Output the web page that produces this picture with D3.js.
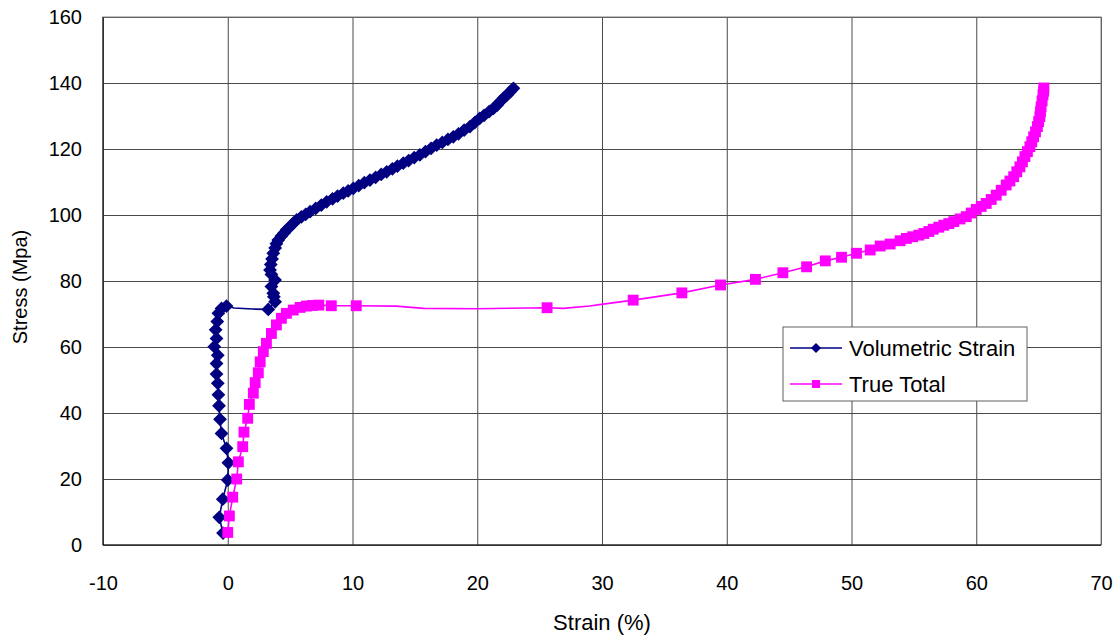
<!DOCTYPE html>
<html>
<head>
<meta charset="utf-8">
<script src="https://cdn.jsdelivr.net/npm/d3@7"></script>
<style>
  body { margin: 0; background: #fff; }
  svg text { font-family: "Liberation Sans", Arial, sans-serif; fill: #000; }
</style>
</head>
<body>
<div id="chart"></div>
<script>
const xTicks = [-10, 0, 10, 20, 30, 40, 50, 60, 70];
const yTicks = [0, 20, 40, 60, 80, 100, 120, 140, 160];
const seriesNames = ['Volumetric Strain', 'True Total'];

// [strain %, stress MPa, 0 = point on the line without a marker]
const volumetric = [
  [-0.38, 3.6], [-0.68, 8.4], [-0.4, 13.9], [0.0, 19.7], [0.05, 24.9], [-0.1, 29.3],
  [-0.5, 33.8], [-0.62, 38.1], [-0.7, 42.2], [-0.75, 45.5], [-0.8, 49.0], [-0.9, 51.8],
  [-0.9, 55.0], [-0.8, 57.5], [-1.08, 60.1], [-0.9, 62.6], [-0.97, 65.2], [-0.84, 67.7],
  [-0.75, 70.2], [-0.5, 71.7], [-0.1, 72.4],
  [0.5, 71.8, 0], [2.0, 71.5, 0],
  [3.25, 71.4], [3.8, 73.7], [3.7, 75.2], [3.65, 76.3], [3.5, 78.3], [3.79, 80.3],
  [3.5, 82.0], [3.39, 83.3], [3.45, 85.0], [3.55, 86.7], [3.65, 88.4], [3.8, 90.0],
  [3.9, 91.3], [4.05, 92.4], [4.3, 93.6], [4.5, 94.5], [4.72, 95.5], [5.0, 96.5],
  [5.25, 97.5], [5.53, 98.5], [5.9, 99.4], [6.25, 100.2], [6.6, 101.0], [7.05, 102.0],
  [7.5, 103.0], [7.93, 104.0], [8.4, 104.9], [8.8, 105.7], [9.26, 106.6], [9.65, 107.3],
  [10.07, 108.1], [10.5, 108.9], [10.95, 109.8], [11.4, 110.6], [11.85, 111.4], [12.3, 112.3],
  [12.74, 113.1], [13.2, 114.0], [13.6, 114.8], [14.07, 115.7], [14.5, 116.5], [14.95, 117.4],
  [15.4, 118.2], [15.85, 119.2], [16.3, 120.2], [16.75, 121.2], [17.2, 122.0], [17.65, 122.9],
  [18.08, 123.7], [18.5, 124.6], [18.95, 125.7], [19.42, 126.8], [19.8, 128.0], [20.2, 129.3],
  [20.55, 130.2], [20.95, 131.3], [21.3, 132.3], [21.6, 133.3], [21.85, 134.4], [22.1, 135.4],
  [22.4, 136.4], [22.65, 137.4], [22.9, 138.4]
];

const trueTotal = [
  [0.0, 3.8], [0.13, 8.8], [0.4, 14.5], [0.72, 20.0], [0.85, 25.2], [1.2, 29.8],
  [1.3, 34.2], [1.6, 38.4], [1.73, 42.6], [2.05, 46.0], [2.2, 49.2], [2.45, 52.2],
  [2.6, 55.5], [2.85, 58.6], [3.1, 61.1], [3.5, 64.1], [3.9, 66.7], [4.3, 68.7],
  [4.7, 70.2], [5.25, 71.2], [5.8, 72.0], [6.3, 72.4], [6.8, 72.6], [7.3, 72.7],
  [8.3, 72.5], [10.3, 72.5],
  [13.5, 72.4, 0], [15.7, 71.7, 0], [20.0, 71.6, 0],
  [25.6, 71.9],
  [26.9, 71.7, 0], [29.0, 72.4, 0], [30.1, 73.0, 0],
  [32.5, 74.2], [36.4, 76.4], [39.5, 78.8], [42.3, 80.5], [44.5, 82.5], [46.4, 84.3],
  [47.9, 86.1], [49.2, 87.2], [50.4, 88.4], [51.5, 89.4], [52.3, 90.6], [53.1, 91.2],
  [53.9, 92.2], [54.4, 92.9], [54.9, 93.4], [55.4, 93.9], [55.8, 94.4], [56.2, 95.0],
  [56.55, 95.7], [57.0, 96.3], [57.4, 96.9], [57.8, 97.4], [58.2, 98.0], [58.7, 98.8],
  [59.2, 99.5], [59.6, 100.6], [60.0, 101.7], [60.4, 102.6], [60.8, 103.5], [61.2, 104.7],
  [61.6, 106.0], [62.0, 107.5], [62.4, 109.1], [62.7, 110.3], [63.0, 111.6], [63.25, 113.1],
  [63.5, 114.6], [63.7, 116.1], [63.9, 117.7], [64.1, 119.2], [64.3, 120.7], [64.45, 122.2],
  [64.6, 123.7], [64.75, 125.2], [64.9, 126.8], [65.0, 128.3], [65.1, 129.8], [65.15, 131.3],
  [65.2, 132.8], [65.28, 134.6], [65.35, 136.4], [65.4, 137.5], [65.42, 138.5]
];

const W = 1119, H = 637;
const margin = { left: 103, right: 18, top: 17, bottom: 92 };
const iw = W - margin.left - margin.right,
  ih = H - margin.top - margin.bottom;

const svg = d3.select('#chart').append('svg')
  .attr('width', W)
  .attr('height', H);

const g = svg.append('g')
  .attr('transform', `translate(${margin.left},${margin.top})`);

const x = d3.scaleLinear().domain([-10, 70]).range([0, iw]);
const y = d3.scaleLinear().domain([0, 160]).range([ih, 0]);

// grid + tick labels (plain hyphen for negatives, as in the original)
g.append('g')
  .attr('transform', `translate(0,${ih})`)
  .call(d3.axisBottom(x).tickValues(xTicks).tickFormat(d => String(d)).tickSize(-ih).tickPadding(31))
  .call(a => a.select('.domain').remove())
  .call(a => a.selectAll('line').attr('stroke', '#4a4a4a'))
  .call(a => a.selectAll('text').attr('font-size', 20));

g.append('g')
  .call(d3.axisLeft(y).tickValues(yTicks).tickFormat(d => String(d)).tickSize(-iw).tickPadding(21))
  .call(a => a.select('.domain').remove())
  .call(a => a.selectAll('line').attr('stroke', '#4a4a4a'))
  .call(a => a.selectAll('text').attr('font-size', 20));

g.append('rect')
  .attr('width', iw).attr('height', ih)
  .attr('fill', 'none').attr('stroke', '#808080');
g.append('line').attr('x1', 0).attr('x2', 0).attr('y1', 0).attr('y2', ih).attr('stroke', '#000');
g.append('line').attr('x1', 0).attr('x2', iw).attr('y1', ih).attr('y2', ih).attr('stroke', '#000');

// axis titles
svg.append('text')
  .attr('x', margin.left + iw / 2)
  .attr('y', 630)
  .attr('text-anchor', 'middle')
  .attr('font-size', 22)
  .text('Strain (%)');

svg.append('text')
  .attr('transform', 'translate(27,287) rotate(-90)')
  .attr('text-anchor', 'middle')
  .attr('font-size', 20)
  .text('Stress (Mpa)');

const line = d3.line().x(d => x(d[0])).y(d => y(d[1]));
const diamond = d3.symbol(d3.symbolSquare, 95);
const square = d3.symbol(d3.symbolSquare, 118);

const series = [
  { data: volumetric, color: '#000080', sym: diamond, rot: 45 },
  { data: trueTotal, color: '#ff00ff', sym: square, rot: 0 }
];

series.forEach(s => {
  g.append('path')
    .datum(s.data)
    .attr('fill', 'none')
    .attr('stroke', s.color)
    .attr('stroke-width', 1.6)
    .attr('d', line);

  g.append('g')
    .selectAll('path')
    .data(s.data.filter(d => d[2] !== 0))
    .enter()
    .append('path')
    .attr('d', s.sym)
    .attr('fill', s.color)
    .attr('transform', d => `translate(${x(d[0])},${y(d[1])}) rotate(${s.rot})`);
});

// legend
const lg = svg.append('g').attr('transform', 'translate(783,327)');
lg.append('rect')
  .attr('width', 244).attr('height', 74)
  .attr('fill', '#fff').attr('stroke', '#606060');

seriesNames.forEach((name, i) => {
  let s = series[i],
    ly = 21 + i * 36;
  lg.append('line')
    .attr('x1', 7).attr('x2', 59)
    .attr('y1', ly).attr('y2', ly)
    .attr('stroke', s.color).attr('stroke-width', 1.6);
  lg.append('path')
    .attr('d', i === 0 ? d3.symbol(d3.symbolSquare, 50) : d3.symbol(d3.symbolSquare, 64))
    .attr('fill', s.color)
    .attr('transform', `translate(33,${ly}) rotate(${s.rot})`);
  lg.append('text')
    .attr('x', 66).attr('y', ly + 8)
    .attr('font-size', 22)
    .text(name);
});
</script>
</body>
</html>
